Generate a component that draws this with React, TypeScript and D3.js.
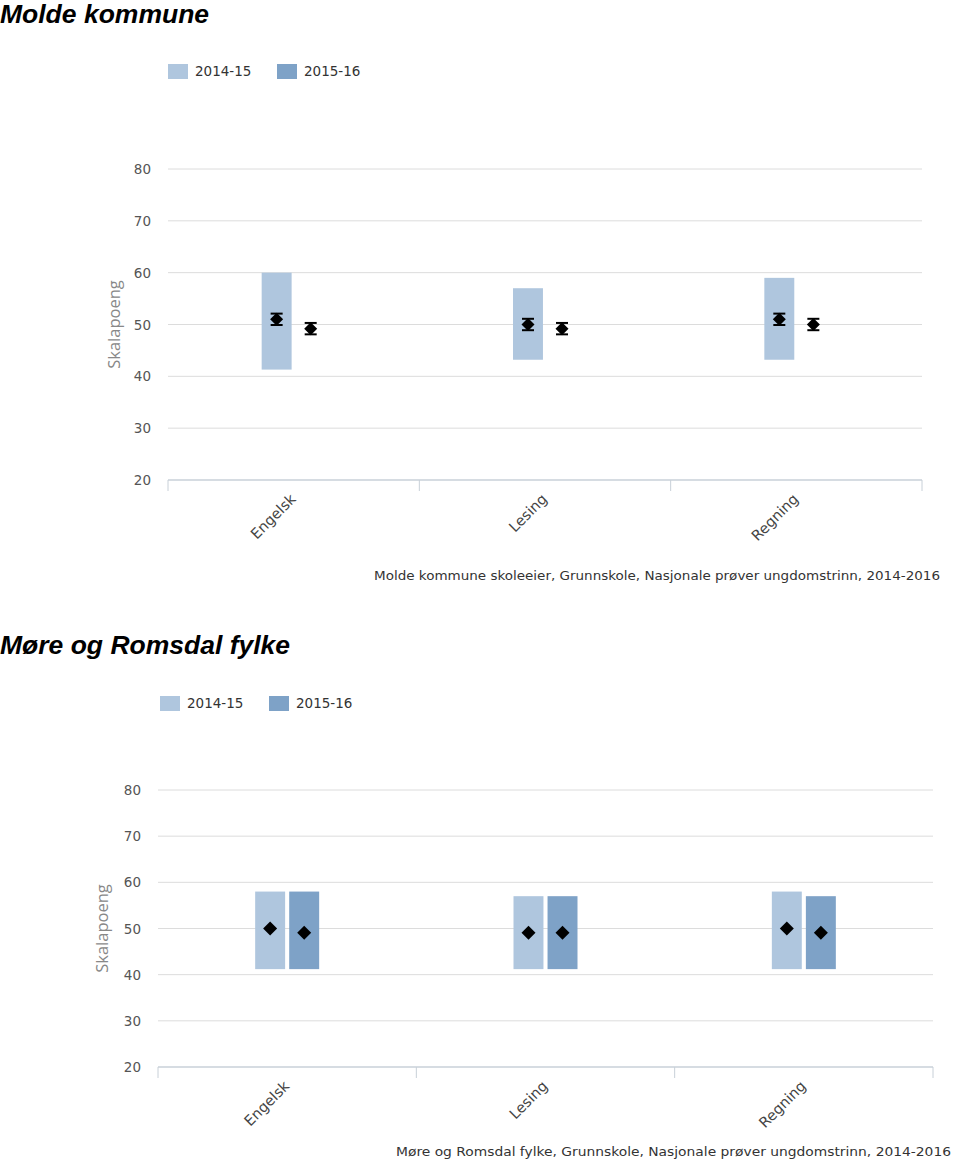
import React from "react";
import * as d3 from "d3";

const categories = ["Engelsk", "Lesing", "Regning"];
const seriesNames = ["2014-15", "2015-16"];
const yTicks = [20, 30, 40, 50, 60, 70, 80];

// Molde kommune
const molde2014Low = [41.3, 43.2, 43.2];
const molde2014High = [60, 57, 59];
const molde2014Mean = [51, 50, 51];
const molde2015Mean = [49.2, 49.2, 50];
const moldeErr = [1.1, 1.1, 1.1];
const moldeFootnote = "Molde kommune skoleeier, Grunnskole, Nasjonale prøver ungdomstrinn, 2014-2016";

// Møre og Romsdal fylke
const mr2014Low = [41.2, 41.2, 41.2];
const mr2014High = [58, 57, 58];
const mr2015Low = [41.2, 41.2, 41.2];
const mr2015High = [58, 57, 57];
const mr2014Mean = [50, 49.1, 50];
const mr2015Mean = [49.1, 49.1, 49.1];
const mrFootnote = "Møre og Romsdal fylke, Grunnskole, Nasjonale prøver ungdomstrinn, 2014-2016";

const LIGHT = "#afc6de";
const DARK = "#7ea2c7";
const FONT = "'DejaVu Sans', Verdana, sans-serif";

type PanelProps = {
  top: number;
  title: string;
  legendX: number;
  legendY: number;
  plotLeft: number;
  plotRight: number;
  yTop: number;
  yBottom: number;
  yLabelX: number;
  low1: (number | null)[];
  high1: (number | null)[];
  low2: (number | null)[] | null;
  high2: (number | null)[] | null;
  mean1: number[];
  mean2: number[];
  err: number[] | null;
  footnote: string;
  footX: number;
  footY: number;
  footW: number;
  diamond: number;
};

function Panel(p: PanelProps) {
  const y = d3.scaleLinear().domain([20, 80]).range([p.yBottom, p.yTop]);
  const xb = d3.scaleBand().domain(categories).range([p.plotLeft, p.plotRight]).padding(0);
  const inner = d3.scaleBand().domain(seriesNames).range([-32, 32]).paddingInner(0.12);
  const bw = inner.bandwidth();
  const center = (c: string) => (xb(c) as number) + xb.bandwidth() / 2;
  const diamondPath = (s: number) => `M0,${-s}L${s},0L0,${s}L${-s},0Z`;
  const boundaries = [p.plotLeft, ...categories.map((c) => (xb(c) as number) + xb.bandwidth())];

  return (
    <g>
      <text x={0} y={p.top} fontFamily="'Liberation Sans', Arial, sans-serif" fontWeight="bold" fontStyle="italic" fontSize={26.5} fill="#000">
        {p.title}
      </text>
      {/* legend */}
      {seriesNames.map((s, i) => (
        <g key={s} transform={`translate(${p.legendX + i * 109},${p.legendY})`}>
          <rect x={0} y={-7} width={20} height={15} fill={i === 0 ? LIGHT : DARK} />
          <text x={27} y={5} fontFamily={FONT} fontSize={13.5} fill="#333">{s}</text>
        </g>
      ))}
      {/* grid */}
      {yTicks.map((t) => (
        <g key={t}>
          {t > 20 && <line x1={p.plotLeft} x2={p.plotRight} y1={y(t)} y2={y(t)} stroke="#dcdcdc" strokeWidth={1} />}
          <text x={p.plotLeft - 17} y={y(t) + 5} textAnchor="end" fontFamily={FONT} fontSize={13.5} fill="#555">{t}</text>
        </g>
      ))}
      <line x1={p.plotLeft} x2={p.plotRight} y1={y(20)} y2={y(20)} stroke="#c8d0d8" strokeWidth={1.5} />
      {boundaries.map((bx, i) => (
        <line key={i} x1={bx} x2={bx} y1={y(20)} y2={y(20) + 11} stroke="#c8d0d8" strokeWidth={1} />
      ))}
      <text transform={`translate(${p.yLabelX},${y(50)}) rotate(-90)`} textAnchor="middle" fontFamily="'Open Sans', sans-serif" fontSize={16.5} fill="#888">
        Skalapoeng
      </text>
      {/* bars */}
      {categories.map((c, i) => {
        const cx = center(c);
        const x1 = cx + (inner(seriesNames[0]) as number);
        const x2 = cx + (inner(seriesNames[1]) as number);
        return (
          <g key={c}>
            {p.low1[i] != null && p.high1[i] != null && (
              <rect x={x1} width={bw} y={y(p.high1[i] as number)} height={y(p.low1[i] as number) - y(p.high1[i] as number)} fill={LIGHT} />
            )}
            {p.low2 && p.high2 && p.low2[i] != null && (
              <rect x={x2} width={bw} y={y(p.high2[i] as number)} height={y(p.low2[i] as number) - y(p.high2[i] as number)} fill={DARK} />
            )}
          </g>
        );
      })}
      {/* markers */}
      {categories.map((c, i) => {
        const cx = center(c);
        const m1x = cx + (inner(seriesNames[0]) as number) + bw / 2;
        const m2x = cx + (inner(seriesNames[1]) as number) + bw / 2;
        return (
          <g key={c}>
            {[{ x: m1x, v: p.mean1[i] }, { x: m2x, v: p.mean2[i] }].map((m, j) => (
              <g key={j}>
                {p.err && (
                  <g stroke="#000" strokeWidth={2}>
                    <line x1={m.x} x2={m.x} y1={y(m.v + p.err[i])} y2={y(m.v - p.err[i])} />
                    <line x1={m.x - 6} x2={m.x + 6} y1={y(m.v + p.err[i])} y2={y(m.v + p.err[i])} />
                    <line x1={m.x - 6} x2={m.x + 6} y1={y(m.v - p.err[i])} y2={y(m.v - p.err[i])} />
                  </g>
                )}
                <path d={diamondPath(p.diamond)} transform={`translate(${m.x},${y(m.v)})`} fill="#000" />
              </g>
            ))}
          </g>
        );
      })}
      {/* category labels */}
      {categories.map((c) => (
        <text key={c} transform={`translate(${center(c) + 3},${y(20) + 20}) rotate(-45)`} textAnchor="end" fontFamily={FONT} fontSize={14.5} fill="#444">
          {c}
        </text>
      ))}
      <text x={p.footX} y={p.footY} fontFamily={FONT} fontSize={13} textLength={p.footW} lengthAdjust="spacingAndGlyphs" fill="#333">{p.footnote}</text>
    </g>
  );
}

export default function App() {
  return (
    <svg width={960} height={1162} style={{ position: "absolute", left: 0, top: 0, background: "#fff" }}>
      <rect width={960} height={1162} fill="#fff" />
      <Panel
        top={23}
        title="Molde kommune"
        legendX={168}
        legendY={71}
        plotLeft={168}
        plotRight={922}
        yTop={169}
        yBottom={480}
        yLabelX={120}
        low1={molde2014Low}
        high1={molde2014High}
        low2={null}
        high2={null}
        mean1={molde2014Mean}
        mean2={molde2015Mean}
        err={moldeErr}
        footnote={moldeFootnote}
        footX={374}
        footY={580}
        footW={566}
        diamond={6.5}
      />
      <Panel
        top={654}
        title="Møre og Romsdal fylke"
        legendX={160}
        legendY={703}
        plotLeft={158}
        plotRight={933}
        yTop={790}
        yBottom={1067}
        yLabelX={108}
        low1={mr2014Low}
        high1={mr2014High}
        low2={mr2015Low}
        high2={mr2015High}
        mean1={mr2014Mean}
        mean2={mr2015Mean}
        err={null}
        footnote={mrFootnote}
        footX={396}
        footY={1156}
        footW={555}
        diamond={7}
      />
    </svg>
  );
}
